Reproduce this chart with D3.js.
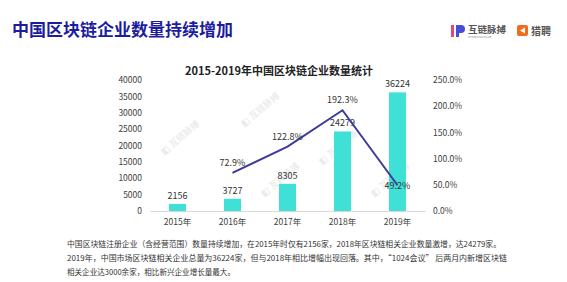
<!DOCTYPE html>
<html>
<head>
<meta charset="utf-8">
<script src="https://cdn.jsdelivr.net/npm/d3@7"></script>
<style>
  body { margin: 0; background: #fff; }
  text { font-family: "Noto Sans CJK SC", "Noto Sans", sans-serif; }
</style>
</head>
<body>
<div id="chart"></div>
<script>
// data
var years = ["2015年", "2016年", "2017年", "2018年", "2019年"];
var companies = [2156, 3727, 8305, 24279, 36224];
var growthYears = ["2016年", "2017年", "2018年", "2019年"];
var growth = [0.729, 1.228, 1.923, 0.492];
var leftTicks = [0, 5000, 10000, 15000, 20000, 25000, 30000, 35000, 40000];
var rightTicks = [0, 0.5, 1.0, 1.5, 2.0, 2.5];
var notes = [
  "中国区块链注册企业（含经营范围）数量持续增加，在2015年时仅有2156家，2018年区块链相关企业数量激增，达24279家。",
  "2019年，中国市场区块链相关企业总量为36224家，但与2018年相比增幅出现回落。其中，“1024会议” 后两月内新增区块链",
  "相关企业达3000余家，相比新兴企业增长量最大。"
];

var W = 567, H = 282;
var svg = d3.select("#chart").append("svg")
  .attr("width", W).attr("height", H);

// page title
svg.append("text")
  .attr("x", 12).attr("y", 36)
  .attr("font-size", 17).attr("font-weight", "bold")
  .attr("fill", "#1c1c9e")
  .text("中国区块链企业数量持续增加");

// logos top right
var logo = svg.append("g");
logo.append("rect").attr("x", 451).attr("y", 25).attr("width", 3).attr("height", 12)
  .attr("fill", "#e8457a");
logo.append("path").attr("d", "M456,25 h5 a4,4 0 0 1 0,8 h-2 v4 h-3 z")
  .attr("fill", "#4a4ad8");
logo.append("text").attr("x", 468).attr("y", 33)
  .attr("font-size", 9.5).attr("font-weight", "bold").attr("fill", "#555")
  .text("互链脉搏");
logo.append("text").attr("x", 468).attr("y", 37.5)
  .attr("font-size", 2.6).attr("fill", "#888")
  .text("INTERCHAIN PULSE");
logo.append("rect").attr("x", 517).attr("y", 25).attr("width", 11).attr("height", 11)
  .attr("rx", 2).attr("fill", "#f36b1c");
logo.append("path").attr("d", "M525,27.5 v6 l-5,-3 z").attr("fill", "#fff");
logo.append("text").attr("x", 531).attr("y", 34.5)
  .attr("font-size", 10).attr("font-weight", "bold").attr("fill", "#555")
  .text("猎聘");

// chart title
svg.append("text")
  .attr("x", 279).attr("y", 75)
  .attr("text-anchor", "middle")
  .attr("font-size", 11).attr("font-weight", "bold").attr("fill", "#222")
  .text("2015-2019年中国区块链企业数量统计");

// watermarks
var marks = [[182, 140], [262, 112], [282, 182], [340, 150], [392, 182]];
svg.selectAll(".wm").data(marks).enter().append("text")
  .attr("class", "wm")
  .attr("transform", function(d) { return "translate(" + d[0] + "," + d[1] + ") rotate(-40)"; })
  .attr("text-anchor", "middle")
  .attr("font-size", 9).attr("font-weight", "bold")
  .attr("fill", "#000").attr("opacity", 0.07)
  .text("◧ 互链脉搏");

// scales
var x = d3.scaleBand().domain(years).range([150, 425])
  .paddingInner(0.69).paddingOuter(0.345);
var y = d3.scaleLinear().domain([0, 40000]).range([211, 80]);
var yR = d3.scaleLinear().domain([0, 2.5]).range([211, 80]);

// axes
var gl = svg.append("g").attr("transform", "translate(145,0)")
  .call(d3.axisLeft(y).tickValues(leftTicks).tickSize(0).tickPadding(3).tickFormat(d3.format("d")));
gl.select(".domain").remove();

var gr = svg.append("g").attr("transform", "translate(430,0)")
  .call(d3.axisRight(yR).tickValues(rightTicks).tickSize(0).tickPadding(3).tickFormat(d3.format(".1%")));
gr.select(".domain").remove();

var gx = svg.append("g").attr("transform", "translate(0,211)")
  .call(d3.axisBottom(x).tickSize(0).tickPadding(8));
gx.select(".domain").attr("stroke", "#d9d9d9").attr("stroke-width", 1);

svg.selectAll(".tick text")
  .attr("font-family", "'Noto Sans CJK SC', sans-serif")
  .attr("font-size", 8.5).attr("fill", "#404040");

// bars
svg.selectAll(".bar").data(companies).enter().append("rect")
  .attr("class", "bar")
  .attr("x", function(d, i) { return x(years[i]); })
  .attr("y", function(d) { return y(d); })
  .attr("width", x.bandwidth())
  .attr("height", function(d) { return y(0) - y(d); })
  .attr("fill", "#3fe0d5");

svg.selectAll(".blab").data(companies).enter().append("text")
  .attr("class", "blab")
  .attr("x", function(d, i) { return x(years[i]) + x.bandwidth() / 2; })
  .attr("y", function(d) { return y(d) - 5; })
  .attr("text-anchor", "middle")
  .attr("font-size", 9).attr("fill", "#333")
  .text(function(d) { return d; });

// growth line
var line = d3.line()
  .x(function(d, i) { return x(growthYears[i]) + x.bandwidth() / 2; })
  .y(function(d) { return yR(d); });
svg.append("path").datum(growth)
  .attr("d", line)
  .attr("fill", "none")
  .attr("stroke", "#3d3a9b")
  .attr("stroke-width", 2);

svg.selectAll(".glab").data(growth).enter().append("text")
  .attr("class", "glab")
  .attr("x", function(d, i) { return x(growthYears[i]) + x.bandwidth() / 2; })
  .attr("y", function(d, i) { return i === growth.length - 1 ? yR(d) + 4 : yR(d) - 7; })
  .attr("text-anchor", "middle")
  .attr("font-size", 9).attr("fill", "#333")
  .text(function(d) { return d3.format(".1%")(d); });

// notes
var noteLens = [434, 440, 168];
svg.selectAll(".note").data(notes).enter().append("text")
  .attr("class", "note")
  .attr("x", 67)
  .attr("y", function(d, i) { return 247 + i * 14; })
  .attr("font-size", 8).attr("fill", "#333")
  .attr("textLength", function(d, i) { return noteLens[i]; })
  .attr("lengthAdjust", "spacingAndGlyphs")
  .text(function(d) { return d; });
</script>
</body>
</html>
